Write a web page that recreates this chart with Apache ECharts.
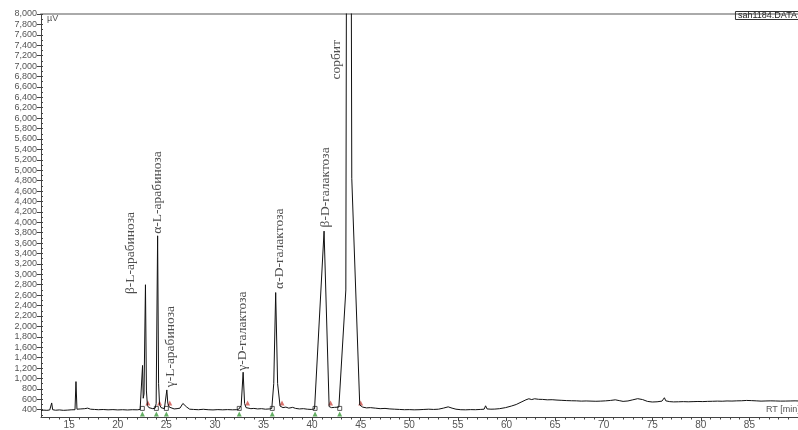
<!DOCTYPE html>
<html>
<head>
<meta charset="utf-8">
<script src="https://cdn.jsdelivr.net/npm/echarts@6/dist/echarts.min.js"></script>
<style>
html,body{margin:0;padding:0;background:#fff;}
#chart{width:798px;height:430px;}
</style>
</head>
<body>
<div id="chart"></div>
<script>
// Retention time (min)
var rt = [
12.1,12.4,12.7,13.0,13.2,13.3,13.6,14.0,14.4,14.8,15.2,15.6,15.7,15.8,16.0,16.2,16.4,16.6,16.9,17.2,17.6,18.0,18.5,19.0,19.5,20.0,20.5,21.0,21.5,22.0,22.3,
22.45,22.55,22.62,22.7,22.85,22.95,23.05,23.2,23.4,23.6,23.85,23.95,24.1,24.2,24.3,24.45,24.6,24.8,24.95,25.05,25.15,25.3,25.5,25.8,26.1,26.4,26.7,26.85,27.1,27.4,27.8,
28.3,28.8,29.3,29.8,30.3,30.8,31.3,31.8,32.2,32.45,32.7,32.9,33.05,33.2,33.4,33.7,34.0,34.4,34.8,35.2,35.6,35.85,36.05,36.25,36.45,36.7,37.0,37.3,37.6,38.0,38.3,38.7,39.1,39.5,39.9,
40.25,41.23,41.75,42.0,42.3,42.75,43.47,43.75,44.08,44.9,45.2,45.6,46.0,46.5,47.0,47.5,48.0,48.5,49.0,49.5,50.0,50.5,51.0,51.5,52.0,52.5,53.0,53.5,54.0,54.4,54.8,55.3,55.8,56.3,56.8,57.3,57.7,57.85,58.0,58.4,58.8,59.3,59.9,
60.5,61.0,61.5,62.0,62.3,62.6,62.9,63.3,63.7,64.2,64.7,65.2,65.7,66.2,66.7,67.2,67.7,68.2,68.7,69.2,69.7,70.2,70.7,71.2,71.6,72.0,72.5,73.0,73.5,74.0,74.5,75.0,75.5,76.0,76.25,76.4,76.8,
77.2,77.7,78.2,78.7,79.2,79.7,80.2,80.7,81.2,81.7,82.2,82.7,83.2,83.7,84.2,84.7,85.2,85.7,86.2,86.7,87.2,87.7,88.2,88.7,89.2,89.7,90.0
];
// Detector signal (µV)
var uv = [
385,392,388,395,530,400,390,396,388,392,398,400,940,410,430,415,445,420,430,410,405,400,404,398,402,396,400,395,400,398,405,
440,1250,620,700,2800,760,480,440,430,420,430,520,3740,900,500,440,430,420,450,780,520,450,420,415,420,430,520,545,450,410,405,
400,408,400,396,402,398,402,398,400,410,480,1120,520,440,430,420,425,415,420,410,415,425,900,2650,900,470,440,450,430,445,425,415,420,410,405,
415,3830,460,440,445,450,2700,30000,4845,490,450,435,440,430,420,425,415,410,405,400,402,398,400,405,410,405,410,430,455,430,410,400,398,402,400,405,410,475,415,410,412,420,440,
470,500,545,590,610,595,610,600,598,590,592,585,580,575,572,570,565,568,565,562,565,570,578,590,575,560,568,590,612,595,560,548,552,565,630,570,555,
550,552,555,552,555,558,556,560,562,565,563,568,566,570,572,578,575,570,565,568,570,568,565,566,568,570,568
];
// Peak annotations
var peakNames = ['β-L-арабиноза','α-L-арабиноза','γ-L-арабиноза','γ-D-галактоза','α-D-галактоза','β-D-галактоза','сорбит'];
var peakLabelRT = [21.33, 24.1, 25.43, 32.82, 36.61, 41.33, 42.46];
var peakLabelUV = [2620, 3780, 830, 1150, 2720, 3900, 6740];
// Integration markers
var peakStartRT = [22.53, 23.97, 25.0, 32.5, 35.9, 40.3, 42.84];
var peakEndRT = [23.1, 24.3, 25.35, 33.36, 36.9, 41.9, 45.0];
// Axis ticks
var yTicks = [400,600,800,1000,1200,1400,1600,1800,2000,2200,2400,2600,2800,3000,3200,3400,3600,3800,4000,4200,4400,4600,4800,5000,5200,5400,5600,5800,6000,6200,6400,6600,6800,7000,7200,7400,7600,7800,8000];
var xTicks = [15,20,25,30,35,40,45,50,55,60,65,70,75,80,85];

var trace = rt.map(function(t,i){return [t, uv[i]];});
var labelPts = peakLabelRT.map(function(t,i){return {value:[t, peakLabelUV[i]], name: peakNames[i]};});
var startPts = peakStartRT.map(function(t){return [t, 320];});
var startSq = peakStartRT.map(function(t){return [t, 425];});
var endPts = peakEndRT.map(function(t){return [t, 530];});
var minorX = []; for (var k = 13; k <= 90; k++) minorX.push(k);
var minorY = []; for (var m = 300; m <= 8000; m += 100) minorY.push(m);
var majorX = xTicks.concat([90]);

var chart = echarts.init(document.getElementById('chart'));
var axisGray = '#555';
chart.setOption({
  animation: false,
  backgroundColor: '#fff',
  grid: {left: 41, right: -2.5, top: 14, bottom: 10, containLabel: false},
  title: {
    text: 'sah1184.DATA', right: -2, top: 11,
    padding: [0, 3, 0, 3], borderWidth: 1, borderColor: '#333',
    textStyle: {fontSize: 9, fontWeight: 'normal', color: '#222', fontFamily: 'Liberation Sans'}
  },
  graphic: [
    {type: 'text', left: 47, top: 14, style: {text: 'µV', fontSize: 9, fill: '#555', fontFamily: 'Liberation Sans'}},
    {type: 'text', left: 766, top: 405, style: {text: 'RT [min]', fontSize: 9, fill: '#555', fontFamily: 'Liberation Sans'}}
  ],
  xAxis: [
    {type: 'value', min: 12.1, max: 90, position: 'bottom',
     axisLine: {show: true, onZero: false, lineStyle: {color: '#444', width: 1}},
     axisTick: {show: true, length: 4, customValues: majorX, lineStyle: {color: '#444'}},
     axisLabel: {show: true, customValues: xTicks, margin: 3, fontSize: 10, color: axisGray, fontFamily: 'Liberation Sans'},
     splitLine: {show: false}},
    {type: 'value', min: 12.1, max: 90, position: 'bottom',
     axisLine: {show: false},
     axisTick: {show: true, length: 2.5, customValues: minorX, lineStyle: {color: '#444'}},
     axisLabel: {show: false}, splitLine: {show: false}},
    {type: 'value', min: 12.1, max: 90, position: 'top',
     axisLine: {show: true, onZero: false, lineStyle: {color: '#aaa', width: 2}},
     axisTick: {show: false}, axisLabel: {show: false}, splitLine: {show: false}}
  ],
  yAxis: [
    {type: 'value', min: 260, max: 8000, position: 'left',
     axisLine: {show: true, onZero: false, lineStyle: {color: '#444', width: 1}},
     axisTick: {show: true, length: 4, customValues: yTicks, lineStyle: {color: '#444'}},
     axisLabel: {show: true, customValues: yTicks, margin: 4, fontSize: 9, color: axisGray, fontFamily: 'Liberation Sans',
       formatter: function(v){return v.toLocaleString('en-US');}},
     splitLine: {show: false}},
    {type: 'value', min: 260, max: 8000, position: 'left',
     axisLine: {show: false},
     axisTick: {show: true, length: 2, inside: true, customValues: minorY, lineStyle: {color: '#444'}},
     axisLabel: {show: false}, splitLine: {show: false}}
  ],
  series: [
    {type: 'line', data: trace, xAxisIndex: 0, yAxisIndex: 0, showSymbol: false, symbol: 'none', clip: true,
     lineStyle: {color: '#111', width: 1}},
    {type: 'scatter', data: startSq, symbol: 'rect', symbolSize: 4, itemStyle: {color: 'rgba(0,0,0,0)', borderColor: '#333', borderWidth: 1}},
    {type: 'scatter', data: startPts, symbol: 'triangle', symbolSize: 5, itemStyle: {color: '#3c9a3c'}},
    {type: 'scatter', data: endPts, symbol: 'triangle', symbolSize: 5, itemStyle: {color: '#d0504a'}},
    {type: 'scatter', data: labelPts, symbolSize: 0, silent: true,
     label: {show: true, formatter: '{b}', position: 'inside', rotate: 90, align: 'left', verticalAlign: 'middle',
       fontSize: 13.5, color: '#222', fontFamily: 'Liberation Serif'}}
  ]
});
</script>
</body>
</html>
